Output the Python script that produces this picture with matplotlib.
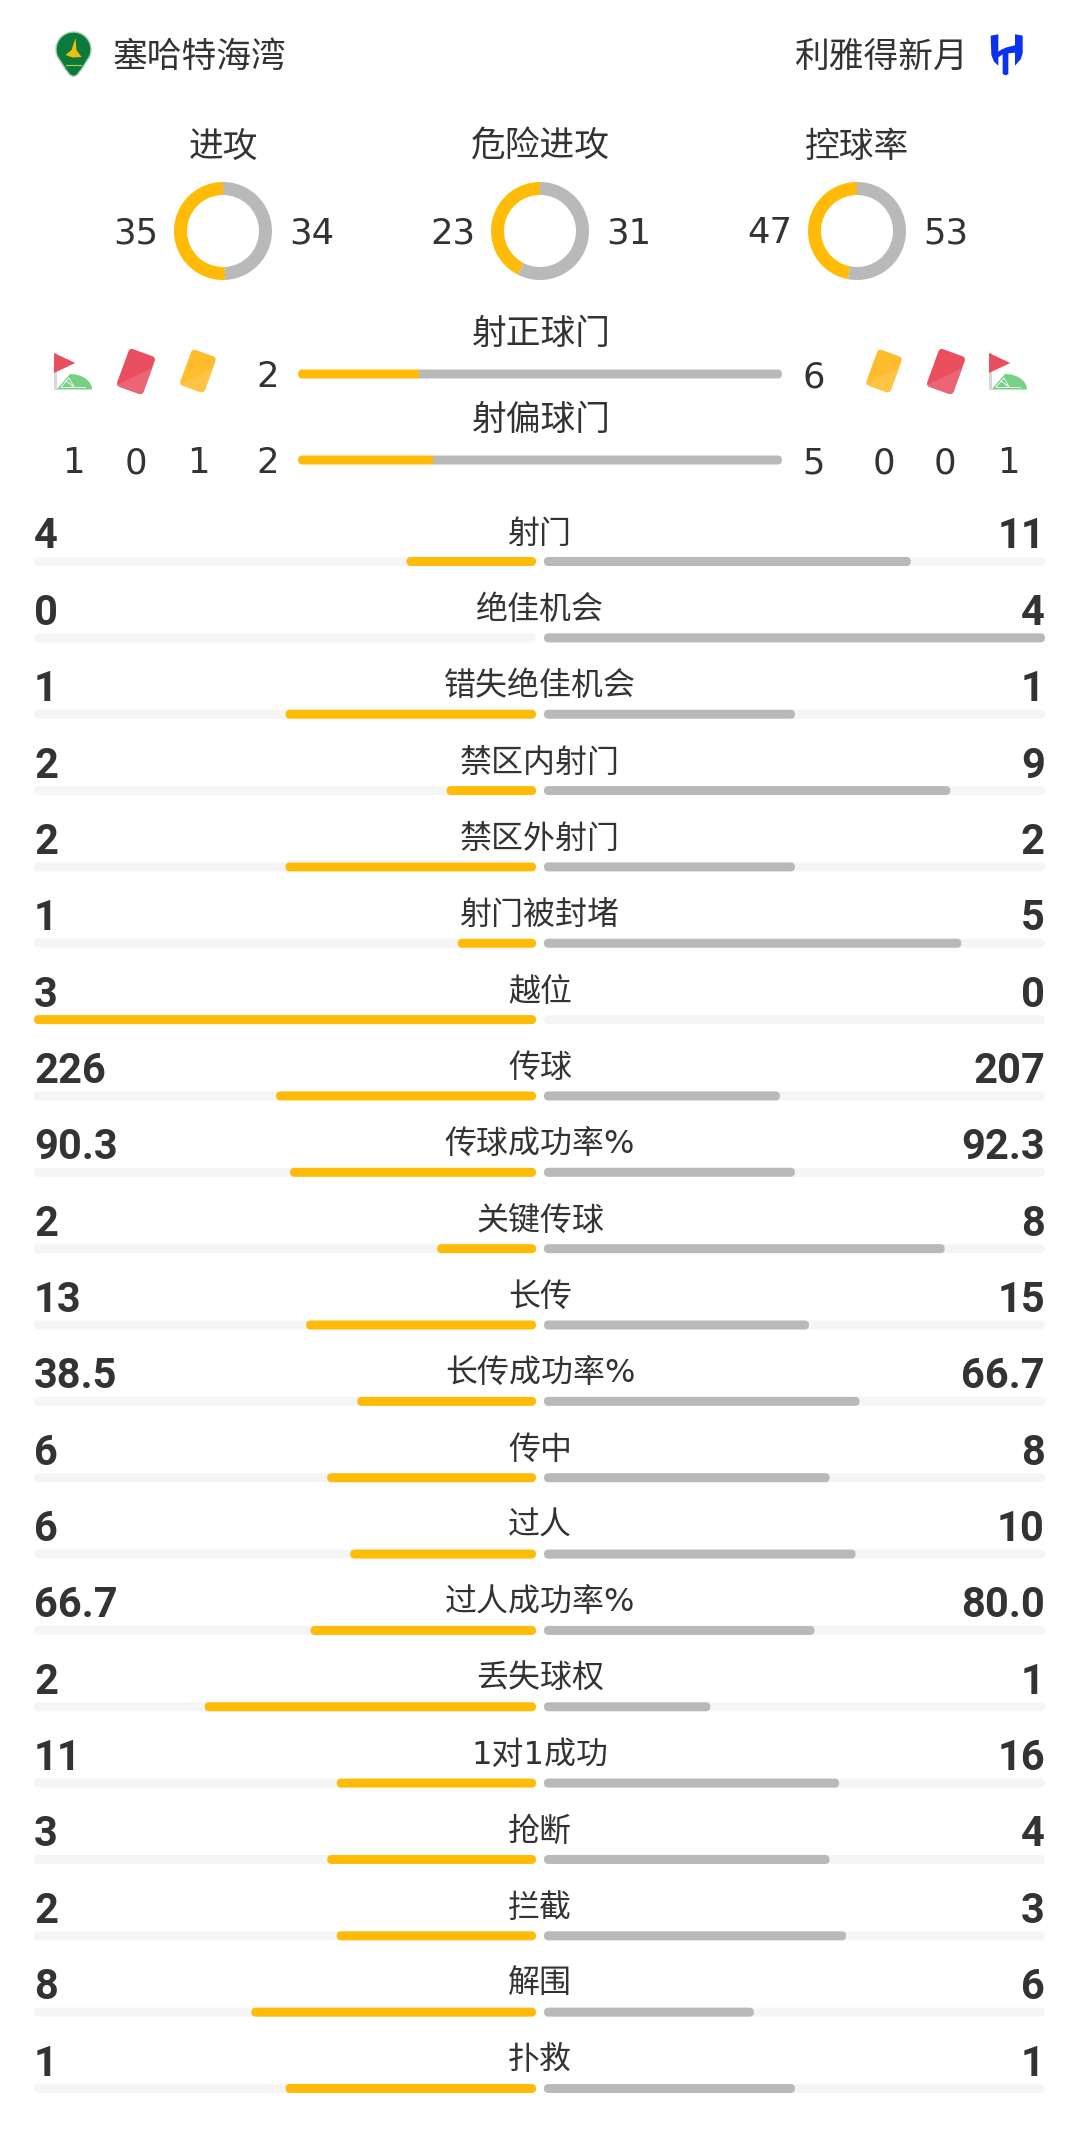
#!/usr/bin/env python
"""Match stats panel: team header, three donuts, shot bars, then the stat rows."""

import numpy as np
import matplotlib
matplotlib.use("Agg")
import matplotlib.pyplot as plt
from matplotlib.patches import FancyBboxPatch, Polygon, Rectangle
from matplotlib.transforms import Affine2D

# ------------------------------------------------------------------- data
home_team = "塞哈特海湾"
away_team = "利雅得新月"

donut_labels = ["进攻", "危险进攻", "控球率"]
donut_home = [35, 23, 47]
donut_away = [34, 31, 53]

shot_labels = ["射正球门", "射偏球门"]
shot_home = [2, 2]
shot_away = [6, 5]
shot_share = [0.25, 0.278]  # gold part of the bar

home_corners, home_reds, home_yellows = 1, 0, 1
away_yellows, away_reds, away_corners = 0, 0, 1

stat_labels = ["射门", "绝佳机会", "错失绝佳机会", "禁区内射门", "禁区外射门",
               "射门被封堵", "越位", "传球", "传球成功率%", "关键传球", "长传",
               "长传成功率%", "传中", "过人", "过人成功率%", "丢失球权",
               "1对1成功", "抢断", "拦截", "解围", "扑救"]
stat_home = ["4", "0", "1", "2", "2", "1", "3", "226", "90.3", "2", "13",
             "38.5", "6", "6", "66.7", "2", "11", "3", "2", "8", "1"]
stat_away = ["11", "4", "1", "9", "2", "5", "0", "207", "92.3", "8", "15",
             "66.7", "8", "10", "80.0", "1", "16", "4", "3", "6", "1"]
# filled part of each track
bar_home = [0.258, 0, 0.499, 0.178, 0.499, 0.156, 1, 0.518, 0.490, 0.197, 0.458,
            0.356, 0.416, 0.370, 0.449, 0.660, 0.397, 0.416, 0.397, 0.567, 0.499]
bar_away = [0.732, 1, 0.501, 0.811, 0.501, 0.833, 0, 0.471, 0.501, 0.800, 0.529,
            0.630, 0.570, 0.622, 0.540, 0.332, 0.589, 0.570, 0.603, 0.419, 0.501]

# ------------------------------------------------------------------ style
W, H = 1080, 2150
GOLD, GREY, TRACK, INK = "#FFBB05", "#B9B9B9", "#F5F5F5", "#333333"
RED, RED2 = "#E94F5F", "#EC6575"
YEL, YEL2 = "#FFBC2C", "#FFC444"
LIGHT = ["DejaVu Sans", "Noto Sans CJK SC"]

fig = plt.figure(figsize=(W / 100, H / 100), dpi=100, facecolor="white")
ax = fig.add_axes([0, 0, 1, 1])
ax.set_xlim(0, W)
ax.set_ylim(H, 0)
ax.axis("off")


def label(x, y, s, size, ha="center"):
    ax.text(x, y, s, fontsize=size, color=INK, ha=ha, va="baseline", family=LIGHT)


def pill(x0, x1, y, color, h=9, clip_to=None):
    r = h / 2 - 0.02
    p = FancyBboxPatch((x0 + h / 2, y), max(x1 - x0 - h, 0.01), 0.02,
                       boxstyle=f"round,pad={r},rounding_size={r}", fc=color, ec="none")
    ax.add_patch(p)
    if clip_to is not None:
        p.set_clip_path(Rectangle((clip_to[0], y - h), clip_to[1] - clip_to[0], 2 * h,
                                  transform=ax.transData))
    return p


def flag(cx, cy):
    # pole, pennant and green corner arc, all around the icon centre
    ax.add_patch(Rectangle((cx - 19, cy - 19), 2.6, 36.5, fc="#D8D8D8", ec="none"))
    ax.add_patch(Polygon([(cx - 19, cy - 19), (cx + 2.3, cy - 9), (cx - 19, cy + 1)],
                         fc=RED, ec="none"))
    t = np.linspace(0, np.pi / 2, 14)
    arc = [(cx - 3 + 22 * np.sin(a), cy + 17.5 - 15.5 * np.cos(a)) for a in t]
    ax.add_patch(Polygon(arc + [(cx - 16.4, cy + 17.5)], fc="#76D184", ec="none"))
    ax.plot([cx - 12, cx + 12], [cy + 15, cy + 15], color="white", lw=0.6)
    ax.plot([cx - 12, cx - 4, cx + 1, cx - 7], [cy + 15, cy + 6, cy + 15, cy + 9],
            color="white", lw=0.6)


def card(cx, cy, w, h, base, shine):
    rot = Affine2D().rotate_deg_around(cx, cy, 20) + ax.transData
    body = FancyBboxPatch((cx - w / 2 + 4, cy - h / 2 + 4), w - 8, h - 8,
                          boxstyle="round,pad=4,rounding_size=4", fc=base, ec="none",
                          transform=rot)
    ax.add_patch(body)
    tri = Polygon([(cx + w / 2 + 2, cy - h / 2 + 9), (cx + w / 2 + 2, cy + h / 2 + 2),
                   (cx - w / 2 - 2, cy + h / 2 + 2)], fc=shine, ec="none", transform=rot)
    ax.add_patch(tri)
    tri.set_clip_path(body)


# ----------------------------------------------------------------- header
crest_t = np.linspace(np.radians(-205), np.radians(25), 40)
crest = [(73.5 + 17.5 * np.cos(a), 49.5 + 17.5 * np.sin(a)) for a in crest_t]
crest += [(81, 70), (77, 75), (73.5, 76.5), (70, 75), (66, 70)]
ax.add_patch(Polygon(crest, fc="#0B7A3B", ec="#A6D3B0", lw=1))
ax.add_patch(Polygon([(75.5, 38), (76.5, 50), (81.5, 57), (72.5, 57.5), (65.5, 55), (71.5, 50)],
                     fc="#F2BD12", ec="none"))
ax.plot([66, 81], [64.5, 64.5], color="#B9C94A", lw=0.8)

hilal = np.array([(32, 47), (55, 43), (55, 95), (66, 88), (80, 82), (105, 76), (105, 43),
                  (128, 47), (128, 100), (122, 118), (105, 137), (105, 98), (85, 100),
                  (85, 162), (78, 166), (68, 162), (68, 103), (55, 112), (55, 137),
                  (42, 125), (34, 105)], dtype=float) / 3 + (980, 20)
ax.add_patch(Polygon(hilal, fc="#0A30F0", ec="none"))

label(113, 67, home_team, 25, ha="left")
label(968, 67, away_team, 25, ha="right")

# ----------------------------------------------------------------- donuts
donut_cx = [223, 540, 857]
donut_cy, donut_r, donut_w = 231, 49, 13
for i, cx in enumerate(donut_cx):
    a = fig.add_axes([(cx - donut_r) / W, 1 - (donut_cy + donut_r) / H,
                      2 * donut_r / W, 2 * donut_r / H])
    a.pie([donut_home[i], donut_away[i]], colors=[GOLD, GREY], startangle=90,
          counterclock=True, radius=1, wedgeprops={"width": donut_w / donut_r})
    a.set_xlim(-1, 1)
    a.set_ylim(-1, 1)
    label(cx, 156.5, donut_labels[i], 25)
    label(cx - 87, 243, str(donut_home[i]), 25.5)
    label(cx + 89, 243, str(donut_away[i]), 25.5)

# -------------------------------------------------------------- shot bars
shot_y = [374, 460]
shot_x0, shot_x1 = 298, 782
for i, y in enumerate(shot_y):
    split = shot_x0 + (shot_x1 - shot_x0) * shot_share[i]
    label(541, y - 30, shot_labels[i], 25)
    label(268, y + 13, str(shot_home[i]), 25.5)
    label(814, y + 13, str(shot_away[i]), 25.5)
    pill(shot_x0, shot_x1, y, GREY, clip_to=(split, shot_x1 + 5))
    pill(shot_x0, shot_x1, y, GOLD, clip_to=(shot_x0 - 5, split))

for x, v in zip([73, 136, 198, 884, 945, 1008],
                [home_corners, home_reds, home_yellows, away_yellows, away_reds, away_corners]):
    label(x, 473, str(v), 25.5)

flag(73, 372)
card(136, 371.5, 28, 40, RED, RED2)
card(198, 371, 26, 38, YEL, YEL2)
card(884, 371, 26, 38, YEL, YEL2)
card(946, 371.5, 28, 40, RED, RED2)
flag(1008, 372)

# -------------------------------------------------------------- stat rows
row0, row_step = 561.5, 76.35
left0, left1, right0, right1 = 34, 536, 544, 1045
for i, name in enumerate(stat_labels):
    y = row0 + i * row_step
    pill(left0, left1, y, TRACK)
    pill(right0, right1, y, TRACK)
    if bar_home[i] > 0:
        pill(left1 - (left1 - left0) * bar_home[i], left1, y, GOLD)
    if bar_away[i] > 0:
        pill(right0, right0 + (right1 - right0) * bar_away[i], y, GREY)
    label(540, y - 19, name, 23)
    ax.text(left0, y - 13, stat_home[i], fontsize=30, fontweight="bold", family="Roboto",
            color=INK, ha="left", va="baseline")
    ax.text(right1, y - 13, stat_away[i], fontsize=30, fontweight="bold", family="Roboto",
            color=INK, ha="right", va="baseline")

fig.savefig("out.png", dpi=100, facecolor="white")
